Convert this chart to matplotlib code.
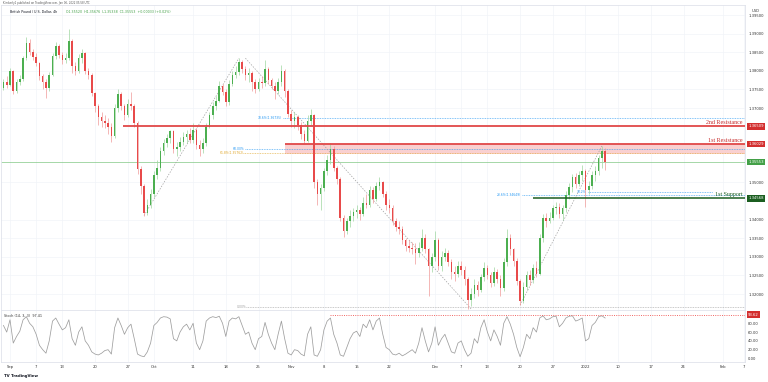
import numpy as np
import matplotlib
matplotlib.use("Agg")
import matplotlib.pyplot as plt
from matplotlib.transforms import blended_transform_factory as btf

# ---------------- data (12h candles, x = trading-day index, Sep 1 2021 = 0) -------------
first_day = -1.0
candle_step = 0.5
open0 = 1.3755
closes = [
    1.3770, 1.3762, 1.3800, 1.3745, 1.3770, 1.3778, 1.3835, 1.3875, 1.3850, 1.3838,
    1.3820, 1.3785, 1.3770, 1.3755, 1.3790, 1.3840, 1.3868, 1.3842, 1.3830, 1.3835,
    1.3880, 1.3812, 1.3800, 1.3835, 1.3848, 1.3800, 1.3790, 1.3740, 1.3705, 1.3675,
    1.3665, 1.3660, 1.3650, 1.3625, 1.3700, 1.3738, 1.3705, 1.3680, 1.3712, 1.3705,
    1.3660, 1.3535, 1.3490, 1.3418, 1.3440, 1.3470, 1.3520, 1.3538, 1.3585, 1.3605,
    1.3620, 1.3638, 1.3590, 1.3595, 1.3610, 1.3622, 1.3630, 1.3615, 1.3640, 1.3600,
    1.3590, 1.3605, 1.3650, 1.3680, 1.3705, 1.3720, 1.3760, 1.3742, 1.3715, 1.3765,
    1.3790, 1.3798, 1.3825, 1.3805, 1.3790, 1.3795, 1.3770, 1.3752, 1.3770, 1.3768,
    1.3805, 1.3775, 1.3760, 1.3745, 1.3770, 1.3800, 1.3745, 1.3685, 1.3665, 1.3675,
    1.3655, 1.3630, 1.3612, 1.3665, 1.3680, 1.3500, 1.3470, 1.3485, 1.3530, 1.3560,
    1.3590, 1.3540, 1.3510, 1.3405, 1.3370, 1.3395, 1.3410, 1.3420, 1.3425, 1.3415,
    1.3445, 1.3440, 1.3480, 1.3455, 1.3490, 1.3500, 1.3470, 1.3440, 1.3430, 1.3395,
    1.3380, 1.3375, 1.3345, 1.3330, 1.3325, 1.3320, 1.3310, 1.3325, 1.3350, 1.3320,
    1.3275, 1.3300, 1.3345, 1.3275, 1.3300, 1.3310, 1.3285, 1.3260, 1.3255, 1.3275,
    1.3265, 1.3240, 1.3185, 1.3200, 1.3225, 1.3210, 1.3245, 1.3270, 1.3250, 1.3230,
    1.3260, 1.3240, 1.3215, 1.3285, 1.3350, 1.3320, 1.3290, 1.3235, 1.3180, 1.3220,
    1.3250, 1.3238, 1.3270, 1.3255, 1.3350, 1.3405, 1.3395, 1.3405, 1.3430, 1.3435,
    1.3415, 1.3430, 1.3465, 1.3488, 1.3515, 1.3495, 1.3520, 1.3530, 1.3480, 1.3490,
    1.3520, 1.3530, 1.3565, 1.3585, 1.35553,
]
highs = [
    1.3778, 1.3785, 1.3808, 1.3803, 1.3778, 1.3790, 1.3840, 1.3892, 1.3885, 1.3860,
    1.3848, 1.3825, 1.3792, 1.3778, 1.3798, 1.3848, 1.3878, 1.3872, 1.3850, 1.3848,
    1.3913, 1.3885, 1.3825, 1.3845, 1.3858, 1.3850, 1.3808, 1.3795, 1.3742, 1.3710,
    1.3690, 1.3680, 1.3672, 1.3660, 1.3712, 1.3750, 1.3742, 1.3712, 1.3725, 1.3742,
    1.3712, 1.3665, 1.3545, 1.3495, 1.3455, 1.3482, 1.3530, 1.3560, 1.3595, 1.3618,
    1.3630, 1.3642, 1.3640, 1.3610, 1.3622, 1.3635, 1.3642, 1.3645, 1.3660, 1.3645,
    1.3615, 1.3620, 1.3660, 1.3688, 1.3715, 1.3732, 1.3772, 1.3765, 1.3750, 1.3775,
    1.3800, 1.3812, 1.3834, 1.3830, 1.3812, 1.3808, 1.3800, 1.3778, 1.3780, 1.3785,
    1.3828, 1.3810, 1.3782, 1.3770, 1.3782, 1.3815, 1.3805, 1.3750, 1.3695, 1.3690,
    1.3682, 1.3662, 1.3640, 1.3680, 1.3697, 1.3685, 1.3510, 1.3495, 1.3540, 1.3575,
    1.3607, 1.3598, 1.3545, 1.3515, 1.3412, 1.3405, 1.3425, 1.3432, 1.3440, 1.3435,
    1.3460, 1.3470, 1.3490, 1.3488, 1.3500, 1.3514, 1.3505, 1.3478, 1.3455, 1.3438,
    1.3405, 1.3395, 1.3382, 1.3350, 1.3345, 1.3340, 1.3338, 1.3340, 1.3375, 1.3360,
    1.3325, 1.3310, 1.3370, 1.3350, 1.3315, 1.3325, 1.3318, 1.3295, 1.3275, 1.3290,
    1.3290, 1.3275, 1.3245, 1.3215, 1.3240, 1.3235, 1.3255, 1.3285, 1.3278, 1.3258,
    1.3272, 1.3268, 1.3250, 1.3298, 1.3375, 1.3360, 1.3325, 1.3298, 1.3240, 1.3232,
    1.3262, 1.3265, 1.3280, 1.3290, 1.3362, 1.3415, 1.3418, 1.3420, 1.3440, 1.3448,
    1.3445, 1.3440, 1.3478, 1.3498, 1.3522, 1.3525, 1.3530, 1.3548, 1.3535, 1.3505,
    1.3530, 1.3545, 1.3575, 1.3598, 1.3592,
]
lows = [
    1.3748, 1.3755, 1.3758, 1.3738, 1.3740, 1.3762, 1.3772, 1.3830, 1.3842, 1.3830,
    1.3812, 1.3775, 1.3752, 1.3727, 1.3745, 1.3785, 1.3832, 1.3835, 1.3818, 1.3822,
    1.3828, 1.3795, 1.3788, 1.3795, 1.3820, 1.3792, 1.3778, 1.3732, 1.3690, 1.3655,
    1.3648, 1.3645, 1.3630, 1.3609, 1.3620, 1.3690, 1.3695, 1.3668, 1.3675, 1.3695,
    1.3650, 1.3522, 1.3470, 1.3411, 1.3412, 1.3432, 1.3462, 1.3510, 1.3530, 1.3575,
    1.3595, 1.3605, 1.3580, 1.3570, 1.3585, 1.3600, 1.3605, 1.3605, 1.3605, 1.3590,
    1.3570, 1.3580, 1.3598, 1.3645, 1.3670, 1.3695, 1.3715, 1.3735, 1.3705, 1.3708,
    1.3758, 1.3780, 1.3790, 1.3795, 1.3775, 1.3770, 1.3745, 1.3740, 1.3745, 1.3755,
    1.3760, 1.3765, 1.3750, 1.3725, 1.3738, 1.3760, 1.3730, 1.3675, 1.3650, 1.3645,
    1.3640, 1.3618, 1.3605, 1.3608, 1.3655, 1.3485, 1.3440, 1.3425, 1.3478, 1.3520,
    1.3550, 1.3530, 1.3495, 1.3395, 1.3353, 1.3360, 1.3380, 1.3395, 1.3405, 1.3400,
    1.3410, 1.3430, 1.3435, 1.3445, 1.3450, 1.3480, 1.3460, 1.3425, 1.3418, 1.3385,
    1.3370, 1.3360, 1.3335, 1.3315, 1.3312, 1.3308, 1.3280, 1.3300, 1.3315, 1.3310,
    1.3194, 1.3260, 1.3290, 1.3265, 1.3262, 1.3290, 1.3275, 1.3240, 1.3235, 1.3245,
    1.3250, 1.3225, 1.3160, 1.3168, 1.3190, 1.3195, 1.3205, 1.3235, 1.3240, 1.3220,
    1.3222, 1.3230, 1.3195, 1.3208, 1.3275, 1.3305, 1.3275, 1.3225, 1.3170, 1.3175,
    1.3210, 1.3225, 1.3230, 1.3245, 1.3250, 1.3340, 1.3380, 1.3390, 1.3398, 1.3415,
    1.3405, 1.3400, 1.3420, 1.3455, 1.3475, 1.3485, 1.3490, 1.3505, 1.3433, 1.3470,
    1.3482, 1.3505, 1.3520, 1.3540, 1.35338,
]
stoch = [
    75, 60, 88, 35, 50, 62, 88, 95, 80, 72,
    55, 30, 20, 12, 40, 85, 92, 78, 65, 70,
    88, 45, 30, 60, 72, 40, 30, 15, 10, 8,
    12, 18, 20, 10, 70, 92, 75, 55, 70, 78,
    45, 10, 6, 4, 15, 35, 75, 82, 92, 95,
    94, 90, 45, 40, 60, 72, 78, 65, 80, 35,
    20, 40, 85, 92, 95, 93, 96, 80, 50, 85,
    92, 90, 95, 75, 55, 60, 35, 20, 45, 50,
    82, 55, 35, 20, 55, 85, 45, 12, 8, 20,
    18, 10, 6, 55, 72, 8, 5, 20, 65, 85,
    92, 55, 35, 8, 5, 25, 45, 58, 62, 50,
    78, 70, 88, 65, 85, 92, 55, 25, 20, 10,
    8, 12, 6, 10, 15, 20, 12, 35, 70, 40,
    15, 35, 72, 30, 45, 55, 35, 15, 12, 35,
    40, 20, 5, 12, 45, 35, 70, 88, 60, 40,
    65, 50, 30, 80, 95, 78, 55, 25, 4, 25,
    55, 45, 70, 60, 92, 97, 88, 90, 95, 96,
    72, 80, 92, 96, 97, 85, 88, 92, 40, 45,
    75, 82, 95, 97, 92,
]

x_ticks = [0, 4, 8, 13, 18, 22, 28, 33, 38, 43, 48, 53, 58, 65, 69, 73, 78, 83,
           88, 93, 98, 103, 109, 112.2]
x_labels = ["Sep", "7", "13", "20", "27", "Oct", "11", "18", "25", "Nov", "8", "15",
            "22", "Dec", "7", "13", "20", "27", "2022", "10", "17", "24", "Feb", "7"]
price_ticks = [1.320, 1.325, 1.330, 1.335, 1.340, 1.350, 1.370, 1.375, 1.380,
               1.385, 1.390, 1.395]
stoch_ticks = [0, 20, 40, 60, 80]

res2 = 1.36509
res1 = 1.36029
zone_low = 1.3577
support1 = 1.34568
last_price = 1.35553
stoch_level = 99.5

# fib levels: (label, price, label_x, line_start, line_end, color)
fib_levels = [
    ("78.6%(1.36735)", 1.3673, 37.9, 41.8, None, "#2196f3"),
    ("60.00%", 1.3590, 34.1, 36.0, None, "#2196f3"),
    ("61.8%(1.35762)", 1.3579, 32.1, 35.7, None, "#e0a526"),
    ("0.00%", 1.3166, 34.7, 36.1, None, "#9e9e9e"),
    ("23.6%(1.34649)", 1.3467, 74.5, 78.3, None, "#2196f3"),
    ("38.2%", 1.3473, 86.7, 88.4, 107.5, "#2196f3"),
]
trend_lines = [
    ((20.5, 1.3411), (35.0, 1.3834)),
    ((36.0, 1.3834), (70.5, 1.3160)),
    ((78.0, 1.3170), (90.5, 1.3598)),
]

# ---------------- figure -------------
W, H = 768, 382
fig = plt.figure(figsize=(W / 100, H / 100), dpi=100)
fig.patch.set_facecolor("white")


def rect(x0, y0, x1, y1):
    return [x0 / W, 1 - y1 / H, (x1 - x0) / W, (y1 - y0) / H]


ax = fig.add_axes(rect(1, 5, 745, 310))
axs = fig.add_axes(rect(1, 310, 745, 362), sharex=ax)

XL = (-1.376, 112.39)
ax.set_xlim(*XL)
ax.set_ylim(1.3157, 1.3977)
axs.set_ylim(-8, 110.2)

grid_c = "#f2f4f8"
border_c = "#e0e3eb"
for a in (ax, axs):
    a.set_facecolor("white")
    for s in a.spines.values():
        s.set_color(border_c)
        s.set_linewidth(0.6)
    a.set_axisbelow(True)

ax.set_xticks(x_ticks)
ax.tick_params(axis="x", length=0, labelbottom=False)
ax.set_yticks(price_ticks)
ax.set_yticklabels([f"{p:.5f}" for p in price_ticks])
ax.yaxis.tick_right()
ax.tick_params(axis="y", length=0, pad=2.2, labelsize=2.7, labelcolor="#333333")
ax.grid(True, color=grid_c, lw=0.5)

axs.set_yticks(stoch_ticks)
axs.set_yticklabels([f"{v:.2f}" for v in stoch_ticks])
axs.yaxis.tick_right()
axs.tick_params(axis="y", length=0, pad=2.2, labelsize=2.7, labelcolor="#333333")
axs.set_xticks(x_ticks)
axs.set_xticklabels(x_labels)
axs.tick_params(axis="x", length=0, pad=2.0, labelsize=2.7, labelcolor="#333333")
axs.grid(True, axis="x", color=grid_c, lw=0.5)

# ---------------- candles -------------
c = np.array(closes)
h = np.array(highs)
l = np.array(lows)
o = np.concatenate([[open0], c[:-1]])
x = first_day + candle_step * np.arange(len(c))
up = c >= o
up_body, dn_body = "#4caf50", "#e84a4a"
up_wick, dn_wick = "#9ed6a0", "#f09a98"
ax.vlines(x[up], l[up], h[up], colors=up_wick, lw=0.5, zorder=3)
ax.vlines(x[~up], l[~up], h[~up], colors=dn_wick, lw=0.5, zorder=3)
body_lo = np.minimum(o, c)
body_h = np.maximum(np.abs(c - o), 0.00018)
ax.bar(x[up], body_h[up], bottom=body_lo[up], width=0.24, color=up_body,
       lw=0, zorder=4)
ax.bar(x[~up], body_h[~up], bottom=body_lo[~up], width=0.24, color=dn_body,
       lw=0, zorder=4)

# ---------------- drawings -------------
ax.fill_between([42.05, XL[1]], zone_low, res1, color="#f9d0d0", lw=0, zorder=1)
ax.hlines(res2, 17.3, XL[1], colors="#e04848", lw=1.3, zorder=5)
ax.hlines(res1, 42.05, XL[1], colors="#e04848", lw=1.3, zorder=5)
ax.hlines(support1, 79.9, XL[1], colors="#1b5e20", lw=1.1, zorder=5)
ax.hlines(last_price, XL[0], XL[1], colors="#81c784", lw=0.5, zorder=2)

for lab, p, lx, ls, le, col in fib_levels:
    ax.hlines(p, ls, XL[1] if le is None else le, colors=col, lw=0.5,
              linestyles=(0, (1.2, 1.2)), zorder=2, alpha=0.9)
    ax.text(lx, p, lab, fontsize=2.2, color=col, ha="left", va="center", zorder=6)

for (x0, y0), (x1, y1) in trend_lines:
    ax.plot([x0, x1], [y0, y1], color="#a0a0a0", lw=0.5, ls=(0, (2, 2)), zorder=2)

serif = ["Liberation Serif", "DejaVu Serif"]
for txt, p, col in [("2nd Resistance", res2, "#c62828"),
                    ("1st Resistance", res1, "#c62828"),
                    ("1st Support", support1, "#1b5e20")]:
    ax.annotate(txt, xy=(XL[1], p), xytext=(-1.5, 1.0), textcoords="offset points",
                ha="right", va="bottom", fontsize=4.3, color=col, family=serif,
                zorder=7)

# right-axis price tags
tr = btf(ax.transAxes, ax.transData)
for p, col in [(res2, "#d32f2f"), (res1, "#d32f2f"), (last_price, "#43a047"),
               (support1, "#1b5e20")]:
    ax.annotate(f"{p:.5f}", xy=(1.0, p), xycoords=tr, xytext=(2.2, 0),
                textcoords="offset points", ha="left", va="center", fontsize=2.7,
                color="white", annotation_clip=False, zorder=8,
                bbox=dict(boxstyle="square,pad=0.35", fc=col, ec="none"))
fig.text(756 / W, 1 - 11 / H, "USD", fontsize=2.7, color="#333333", ha="center",
         va="center")

# ---------------- stochastic -------------
sx = first_day + candle_step * np.arange(len(stoch))
axs.plot(sx, stoch, color="#9e9e9e", lw=0.55, zorder=3)
axs.hlines(stoch_level, 49.0, XL[1], colors="#ef5350", lw=0.6,
           linestyles=(0, (1.2, 1.5)), zorder=3)
trs = btf(axs.transAxes, axs.transData)
axs.annotate("93.62", xy=(1.0, stoch_level), xycoords=trs, xytext=(2.2, 0),
             textcoords="offset points", ha="left", va="center", fontsize=2.7,
             color="white", annotation_clip=False, zorder=8,
             bbox=dict(boxstyle="square,pad=0.35", fc="#d32f2f", ec="none"))
axs.text(0.004, 0.93, "Stoch (14, 3, 3)  97.41", transform=axs.transAxes,
         fontsize=2.4, color="#333333", ha="left", va="top")

# ---------------- header / footer -------------
fig.text(3 / W, 1 - 3 / H, "Kimberly1 published on TradingView.com, Jan 06, 2022 05:58 UTC",
         fontsize=1.9, color="#555555", ha="left", va="center")
fig.text(10 / W, 1 - 12 / H, "British Pound / U.S. Dollar, 4h", fontsize=2.3,
         color="#131722", ha="left", va="center")
fig.text(66 / W, 1 - 12 / H,
         "O1.35520  H1.35676  L1.35338  C1.35553  +0.00033 (+0.02%)",
         fontsize=2.3, color="#43a047", ha="left", va="center")
fig.text(4 / W, 1 - 376 / H, "TV TradingView", fontsize=2.8, color="#131722",
         ha="left", va="center", weight="bold")

fig.savefig("out.png", dpi=100, facecolor="white")
